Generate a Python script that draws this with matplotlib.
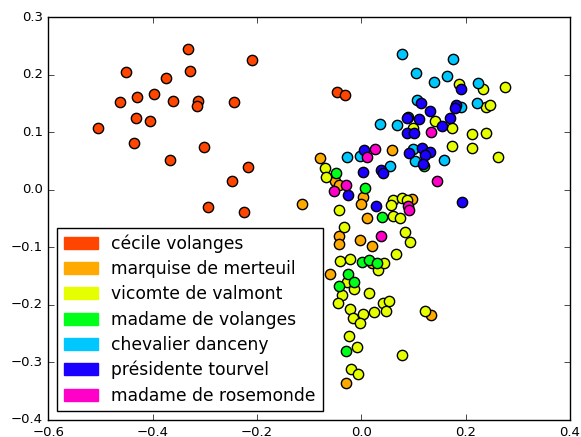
import matplotlib
matplotlib.use("AGG")
import matplotlib.pyplot as plt
import matplotlib.patches as mpatches

plt.style.use("classic")

names = ["cécile volanges", "marquise de merteuil", "vicomte de valmont",
         "madame de volanges", "chevalier danceny", "présidente tourvel",
         "madame de rosemonde"]
colors = ["#ff4500", "#ffaa00", "#e6ff00", "#00ff19", "#00c8ff", "#1a00ff", "#ff00c8"]

cecile_x = [-0.504, -0.450, -0.462, -0.430, -0.431, -0.435, -0.405, -0.398, -0.374, -0.367,
            -0.360, -0.332, -0.329, -0.313, -0.314, -0.302, -0.294, -0.244, -0.248, -0.217,
            -0.225, -0.209, -0.047, -0.032]
cecile_y = [0.108, 0.205, 0.153, 0.161, 0.125, 0.082, 0.119, 0.166, 0.194, 0.051,
            0.154, 0.244, 0.207, 0.154, 0.145, 0.074, -0.030, 0.153, 0.015, 0.039,
            -0.038, 0.225, 0.170, 0.165]

marquise_x = [-0.113, 0.059, -0.080, -0.051, -0.043, 0.004, -0.001, 0.011, 0.098, -0.043,
              -0.042, -0.003, 0.021, -0.059, 0.020, 0.134, -0.029]
marquise_y = [-0.025, 0.069, 0.055, 0.016, 0.008, -0.013, -0.024, -0.049, -0.016, -0.081,
              -0.094, -0.088, -0.097, -0.146, -0.128, -0.218, -0.335]

vicomte_x = [0.188, 0.233, 0.276, 0.239, 0.247, 0.142, 0.173, 0.100, 0.212, 0.240,
             0.174, 0.212, 0.263, -0.070, -0.068, -0.042, -0.033, 0.061, 0.078, 0.088,
             0.057, 0.061, 0.075, 0.084, 0.094, 0.066, -0.040, -0.021, 0.033, 0.043,
             -0.027, -0.013, -0.037, -0.045, 0.014, 0.042, 0.054, 0.048, -0.022, -0.016,
             0.003, -0.002, 0.025, 0.123, -0.024, -0.009, 0.078, -0.019, -0.007]
vicomte_y = [0.184, 0.175, 0.178, 0.144, 0.147, 0.120, 0.107, 0.108, 0.097, 0.099,
             0.076, 0.072, 0.056, 0.038, 0.022, -0.036, -0.064, -0.017, -0.015, -0.017,
             -0.026, -0.045, -0.050, -0.074, -0.090, -0.112, -0.123, -0.121, -0.139, -0.128,
             -0.160, -0.173, -0.183, -0.196, -0.180, -0.197, -0.193, -0.211, -0.208, -0.222,
             -0.216, -0.231, -0.213, -0.210, -0.255, -0.273, -0.287, -0.312, -0.320]

volanges_x = [-0.048, 0.007, 0.040, 0.002, 0.014, 0.031, -0.025, -0.014, -0.042, -0.030, 0.121]
volanges_y = [0.029, 0.003, -0.047, -0.125, -0.122, -0.127, -0.146, -0.160, -0.167, -0.281, 0.041]

danceny_x = [0.079, 0.175, 0.105, 0.164, 0.140, 0.224, 0.221, 0.107, 0.192, 0.089,
             0.036, 0.069, -0.027, -0.002, 0.055, 0.100, 0.103, 0.158]
danceny_y = [0.236, 0.227, 0.202, 0.197, 0.187, 0.186, 0.151, 0.156, 0.144, 0.127,
             0.114, 0.112, 0.056, 0.058, 0.042, 0.070, 0.050, 0.052]

tourvel_x = [0.191, 0.114, 0.131, 0.181, 0.180, 0.088, 0.110, 0.170, 0.154, 0.088,
             0.102, 0.005, 0.117, 0.132, 0.091, 0.123, 0.119, 0.004, 0.038, 0.042,
             -0.025, 0.029, 0.193]
tourvel_y = [0.175, 0.151, 0.136, 0.148, 0.142, 0.124, 0.122, 0.125, 0.111, 0.099,
             0.099, 0.069, 0.072, 0.065, 0.064, 0.061, 0.044, 0.030, 0.034, 0.029,
             -0.010, -0.028, -0.022]

rosemonde_x = [0.134, 0.026, 0.011, 0.145, -0.030, -0.052, 0.089, 0.092, 0.038]
rosemonde_y = [0.100, 0.071, 0.056, 0.015, 0.008, -0.003, -0.029, -0.036, -0.081]

xs = [cecile_x, marquise_x, vicomte_x, volanges_x, danceny_x, tourvel_x, rosemonde_x]
ys = [cecile_y, marquise_y, vicomte_y, volanges_y, danceny_y, tourvel_y, rosemonde_y]

fig = plt.figure(figsize=(5.81, 4.37), dpi=100, facecolor="white")
ax = fig.add_axes([0.083, 0.039, 0.898, 0.922])

for x, y, c in zip(xs, ys, colors):
    ax.scatter(x, y, s=55, c=c, edgecolors="black", linewidths=1)

ax.set_xlim(-0.6, 0.4)
ax.set_ylim(-0.4, 0.3)
ax.tick_params(labelsize=9.5)

handles = [mpatches.Patch(facecolor=c, edgecolor=c, label=n) for n, c in zip(names, colors)]
leg = ax.legend(handles=handles, loc="lower left", fontsize=12.3, labelspacing=0.42)
leg.set_zorder(5)

fig.savefig("out.png", dpi=100, facecolor="white")
